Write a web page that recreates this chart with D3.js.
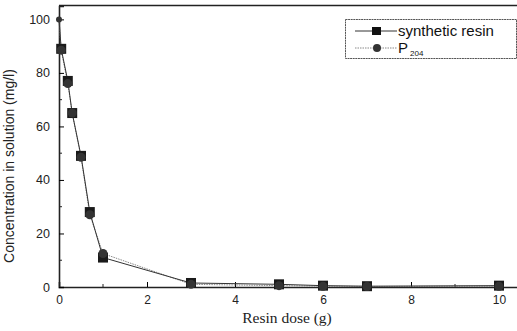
<!DOCTYPE html>
<html><head><meta charset="utf-8">
<script src="https://cdn.jsdelivr.net/npm/d3@7"></script>
<style>body{margin:0;background:#fff}svg{display:block}</style>
</head><body>
<svg id="c" width="517" height="331"></svg>
<script>
const doses = [0, 0.05, 0.2, 0.3, 0.5, 0.7, 1, 3, 5, 6, 7, 10];
const synthetic = [100, 89, 77, 65, 49, 28, 11, 1.5, 1.0, 0.5, 0.3, 0.5];
const p204 = [100, 88.5, 76, 65, 48.5, 27, 12.5, 1.0, 0.5, 0.3, 0.2, 0.3];
const xTicks = [0, 2, 4, 6, 8, 10];
const yTicks = [0, 20, 40, 60, 80, 100];
const seriesNames = ["synthetic resin", "P"];

const svg = d3.select("#c");
const x = d3.scaleLinear().domain([0, 10.5]).range([59, 521]);
const y = d3.scaleLinear().domain([0, 105]).range([287, 6]);

// frame
svg.append("line").attr("x1",59).attr("x2",517).attr("y1",5.5).attr("y2",5.5).attr("stroke","#222").attr("stroke-width",1.3);

const xAxis = d3.axisBottom(x).tickValues(xTicks).tickSize(-5).tickPadding(8).tickFormat(d3.format("d"));
const gx = svg.append("g").attr("transform","translate(0,287)").call(xAxis);
gx.select(".domain").attr("stroke","#222").attr("stroke-width",1.6);
gx.selectAll("text").attr("font-family","Arial, Liberation Sans, sans-serif").attr("font-size",12).attr("fill","#222");
gx.selectAll("g.minor").data([1,3,5,7,9]).enter().append("line")
  .attr("x1",d=>x(d)).attr("x2",d=>x(d)).attr("y1",0).attr("y2",-3).attr("stroke","#222");

const yAxis = d3.axisLeft(y).tickValues(yTicks).tickSize(-5).tickPadding(9);
const gy = svg.append("g").attr("transform","translate(59,0)").call(yAxis);
gy.select(".domain").attr("stroke","#222").attr("stroke-width",1.6);
gy.selectAll("text").attr("font-family","Arial, Liberation Sans, sans-serif").attr("font-size",12.5).attr("fill","#222");
gy.selectAll("g.minor").data([10,30,50,70,90]).enter().append("line")
  .attr("y1",d=>y(d)).attr("y2",d=>y(d)).attr("x1",0).attr("x2",3).attr("stroke","#222");

// lines
const line = d3.line().x((d,i)=>x(doses[i])).y(d=>y(d));
svg.append("path").datum(p204).attr("d",line).attr("fill","none").attr("stroke","#888").attr("stroke-width",1).attr("stroke-dasharray","1.5,1");
svg.append("path").datum(synthetic).attr("d",line).attr("fill","none").attr("stroke","#333").attr("stroke-width",1);

// markers
svg.selectAll("rect.s").data(synthetic).enter().append("rect")
  .attr("x",(d,i)=>x(doses[i])-5).attr("y",d=>y(d)-5).attr("width",10).attr("height",10)
  .attr("fill","#1a1a1a").attr("display",(d,i)=>i===0?"none":null);
svg.selectAll("circle.p").data(p204).enter().append("circle")
  .attr("cx",(d,i)=>x(doses[i])).attr("cy",d=>y(d)).attr("r",(d,i)=>i===0?3:4.5)
  .attr("fill","#333");

// axis labels
svg.append("text").attr("transform","translate(14,166) rotate(-90)").attr("text-anchor","middle")
  .attr("font-family","Arial, Liberation Sans, sans-serif").attr("font-size",14).attr("fill","#222")
  .text("Concentration in solution (mg/l)");
svg.append("text").attr("x",287).attr("y",323).attr("text-anchor","middle")
  .attr("font-family","Times New Roman, Liberation Serif, serif").attr("font-size",15.5).attr("fill","#222")
  .text("Resin dose (g)");

// legend
const lg = svg.append("g");
lg.append("rect").attr("x",345.5).attr("y",19.5).attr("width",171).attr("height",39).attr("fill","#fff").attr("stroke","#555").attr("stroke-width",1).attr("stroke-dasharray","2,0.6");
lg.append("line").attr("x1",355).attr("x2",397).attr("y1",31).attr("y2",31).attr("stroke","#333");
lg.append("rect").attr("x",372).attr("y",27).attr("width",9).attr("height",8).attr("fill","#111");
lg.append("line").attr("x1",355).attr("x2",397).attr("y1",48).attr("y2",48).attr("stroke","#888").attr("stroke-dasharray","1.5,1");
lg.append("circle").attr("cx",377).attr("cy",48).attr("r",4).attr("fill","#333");
lg.append("text").attr("x",398).attr("y",36).attr("font-family","Arial, Liberation Sans, sans-serif").attr("font-size",15).attr("fill","#111").text(seriesNames[0]);
const t2 = lg.append("text").attr("x",398).attr("y",53).attr("font-family","Arial, Liberation Sans, sans-serif").attr("font-size",15).attr("fill","#111");
t2.append("tspan").text(seriesNames[1]);
t2.append("tspan").attr("font-size",8).attr("dx",2).attr("dy",3).text("204");
</script>
</body></html>
